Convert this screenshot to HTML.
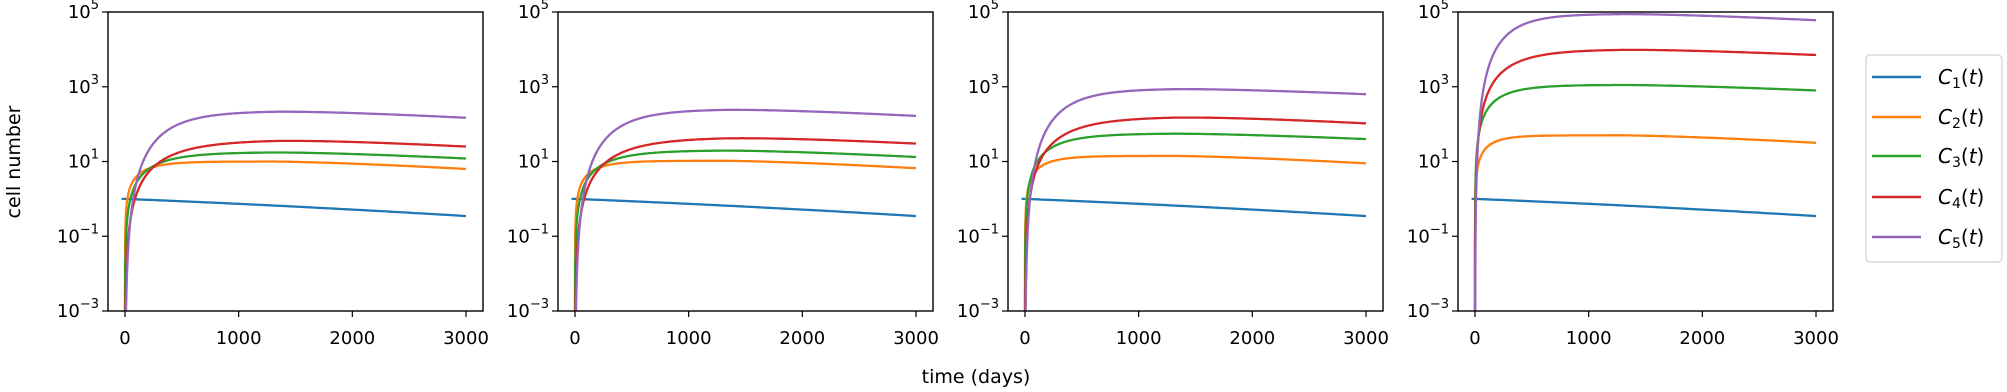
<!DOCTYPE html>
<html><head><meta charset="utf-8">
<style>
html,body{margin:0;padding:0;background:#fff;}
svg{display:block;font-family:"DejaVu Sans","Liberation Sans",sans-serif;}
</style></head>
<body>
<svg id="s" width="2007" height="392" viewBox="0 0 2007 392" xmlns="http://www.w3.org/2000/svg">
<defs></defs>
<text x="20" y="162" font-size="19" text-anchor="middle" transform="rotate(-90 20 162)">cell number</text>
<text x="976" y="383" font-size="19" text-anchor="middle">time (days)</text>
<g id="legend">
<rect x="1866" y="55" width="136" height="207" rx="4" fill="#fff" stroke="#d0d0d0" stroke-width="1.2"/>
<line x1="1872" y1="77" x2="1921" y2="77" stroke="#1f77b4" stroke-width="2.5"/>
<line x1="1872" y1="117" x2="1921" y2="117" stroke="#ff7f0e" stroke-width="2.5"/>
<line x1="1872" y1="156" x2="1921" y2="156" stroke="#2ca02c" stroke-width="2.5"/>
<line x1="1872" y1="197" x2="1921" y2="197" stroke="#d62728" stroke-width="2.5"/>
<line x1="1872" y1="237" x2="1921" y2="237" stroke="#9467bd" stroke-width="2.5"/>
<g font-size="20" font-style="italic">
<text x="1938" y="84">C<tspan font-size="14" dy="4" font-style="normal">1</tspan><tspan dy="-4" font-style="normal">(</tspan>t<tspan font-style="normal">)</tspan></text>
<text x="1938" y="124">C<tspan font-size="14" dy="4" font-style="normal">2</tspan><tspan dy="-4" font-style="normal">(</tspan>t<tspan font-style="normal">)</tspan></text>
<text x="1938" y="163">C<tspan font-size="14" dy="4" font-style="normal">3</tspan><tspan dy="-4" font-style="normal">(</tspan>t<tspan font-style="normal">)</tspan></text>
<text x="1938" y="204">C<tspan font-size="14" dy="4" font-style="normal">4</tspan><tspan dy="-4" font-style="normal">(</tspan>t<tspan font-style="normal">)</tspan></text>
<text x="1938" y="244">C<tspan font-size="14" dy="4" font-style="normal">5</tspan><tspan dy="-4" font-style="normal">(</tspan>t<tspan font-style="normal">)</tspan></text>
</g>
</g>
</svg>
<script>
(function(){
var NS="http://www.w3.org/2000/svg",s=document.getElementById('s'),defs=s.querySelector('defs');
function el(n,a,p){var e=document.createElementNS(NS,n);for(var k in a)e.setAttribute(k,a[k]);(p||s).appendChild(e);return e;}
var lefts=[108,558,1008,1458],W=375,top=12,bot=311;
var colors=['#1f77b4','#ff7f0e','#2ca02c','#d62728','#9467bd'];
var shape=[null,[200,1],[300,1.5],[380,2.3],[300,3.5]];
var P=[
 [[0,-0.46],[1.0,0.8],[1.25,1.08],[1.58,1.4],[2.35,2.17]],
 [[0,-0.46],[1.02,0.82],[1.3,1.12],[1.65,1.48],[2.4,2.22]],
 [[0,-0.46],[1.15,0.95],[1.75,1.6],[2.2,2.02],[2.95,2.8]],
 [[0,-0.46],[1.7,1.5],[3.05,2.9],[4.0,3.85],[4.95,4.78]]
];
var tscale=[1,1,0.95,0.8];
function X(i,t){return lefts[i]+17+t*0.11367;}
function Y(l){return top+(5-l)*(bot-top)/8;}
for(var i=0;i<4;i++){
 var L=lefts[i];
 var cp=el('clipPath',{id:'c'+i},defs);el('rect',{x:L,y:top,width:W,height:bot-top},cp);
 var g=el('g',{'clip-path':'url(#c'+i+')'});
 for(var c=0;c<5;c++){
  var p=P[i][c],d='';
  if(c==0){d='M'+X(i,-30)+','+Y(0)+' ';for(var t=0;t<=3000;t+=50){d+='L'+X(i,t).toFixed(1)+','+Y(p[1]*t/3000*(0.8+0.2*t/3000)).toFixed(1)+' ';}}
  else{
   var tau=shape[c][0]*tscale[i],n=shape[c][1];
   var ts=[];for(var t=0.01;t<1;t*=1.5)ts.push(t);for(var t=1;t<200;t+=1)ts.push(t);for(var t=200;t<=3000;t+=10)ts.push(t);
   for(var j=0;j<ts.length;j++){var t=ts[j];
    var r=1-Math.exp(-t/tau);
    var drop=(p[0]-p[1])*Math.pow(Math.max(0,(t-1300)/1700),1.4);
    var l=p[0]+n*Math.log10(r)-drop;
    if(l<-4)l=-4;
    d+=(j==0?'M':'L')+X(i,t).toFixed(1)+','+Y(l).toFixed(1)+' ';
   }
  }
  el('path',{d:d,fill:'none',stroke:colors[c],'stroke-width':2.3},g);
 }
 el('rect',{x:L,y:top,width:W,height:bot-top,fill:'none',stroke:'#000','stroke-width':1.4});
 for(var k=0;k<=3;k++){var x=X(i,k*1000);el('line',{x1:x,y1:bot,x2:x,y2:bot+6,stroke:'#000','stroke-width':1.2});
  var tx=el('text',{x:x,y:344,'font-size':18,'text-anchor':'middle'});tx.textContent=String(k*1000);}
 var ex=[5,3,1,-1,-3];
 for(var k=0;k<5;k++){var y=Y(ex[k]);el('line',{x1:L-6,y1:y,x2:L,y2:y,stroke:'#000','stroke-width':1.2});
  var tx=el('text',{x:L-9,y:y+6,'font-size':18,'text-anchor':'end'});
  tx.appendChild(document.createTextNode('10'));
  var sp=el('tspan',{'font-size':13,dy:-9},tx);sp.textContent=(ex[k]<0?'\u2212'+(-ex[k]):String(ex[k]));}
}
})();
</script>
</body></html>
